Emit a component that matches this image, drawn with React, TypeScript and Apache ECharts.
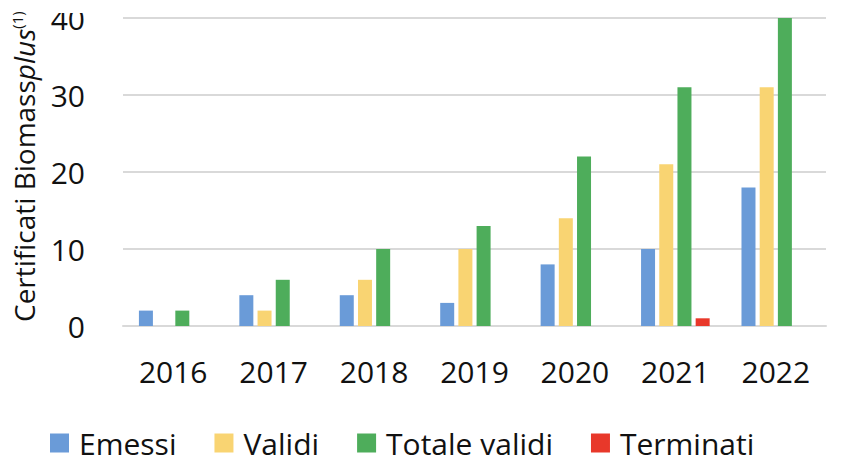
import React, { useEffect, useRef } from "react";
import * as echarts from "echarts";

const years = ["2016", "2017", "2018", "2019", "2020", "2021", "2022"];
const emessi = [2, 4, 4, 3, 8, 10, 18];
const validi = [0, 2, 6, 10, 14, 21, 31];
const totaleValidi = [2, 6, 10, 13, 22, 31, 40];
const terminati = [0, 0, 0, 0, 0, 1, 0];
const yTicks = [0, 10, 20, 30, 40];
const legendNames = ["Emessi", "Validi", "Totale validi", "Terminati"];

const FONT = "'Open Sans', sans-serif";

export default function App() {
  const ref = useRef<HTMLDivElement>(null);
  useEffect(() => {
    if (!ref.current) return;
    const chart = echarts.init(ref.current, null, { renderer: "svg" });
    const mk = (name: string, data: number[], color: string) => ({
      name,
      type: "bar",
      data,
      barWidth: 14,
      barGap: "30%",
      itemStyle: { color },
    });
    chart.setOption({
      animation: false,
      textStyle: { fontFamily: FONT },
      grid: { left: 123, right: 32, top: 18, bottom: 137 },
      legend: {
        top: 428,
        left: 50,
        padding: 0,
        itemWidth: 19,
        itemHeight: 19,
        itemGap: 38,
        icon: "rect",
        textStyle: { fontFamily: FONT, fontSize: 30, color: "#111", padding: [0, 0, 0, 5] },
        data: legendNames,
      },
      xAxis: {
        type: "category",
        data: years,
        axisLine: { show: true, lineStyle: { color: "#d9d9d9", width: 2 } },
        axisTick: { show: false },
        axisLabel: { fontSize: 30, color: "#111", margin: 30, fontFamily: FONT },
      },
      yAxis: {
        type: "value",
        min: yTicks[0],
        max: yTicks[yTicks.length - 1],
        interval: 10,
        axisLine: { show: false },
        axisTick: { show: false },
        splitLine: { lineStyle: { color: "#d9d9d9", width: 2 } },
        axisLabel: { fontSize: 30, color: "#111", margin: 38, fontFamily: FONT },
      },
      graphic: [
        {
          type: "rect",
          left: 45,
          top: 0,
          shape: { width: 75, height: 13 },
          style: { fill: "#fff" },
          z: 100,
        },
        {
          type: "text",
          x: 24,
          y: 322,
          rotation: Math.PI / 2,
          style: {
            text: "{a|Certificati Biomass}{b|plus}{c|(1)}",
            textAlign: "left",
            textVerticalAlign: "middle",
            rich: {
              a: { fontFamily: FONT, fontSize: 28, fill: "#111" },
              b: { fontFamily: FONT, fontSize: 28, fontStyle: "italic", fill: "#111" },
              c: { fontFamily: FONT, fontSize: 15, fill: "#111", padding: [0, 0, 14, 0] },
            },
          },
          z: 50,
        },
      ],
      series: [
        mk("Emessi", emessi, "#6A9BD8"),
        mk("Validi", validi, "#F9D472"),
        mk("Totale validi", totaleValidi, "#4EAD5B"),
        mk("Terminati", terminati, "#E8382A"),
      ],
    });
    return () => chart.dispose();
  }, []);
  return (
    <div
      ref={ref}
      style={{ position: "fixed", left: 0, top: 0, width: 858, height: 463, background: "#fff" }}
    />
  );
}
